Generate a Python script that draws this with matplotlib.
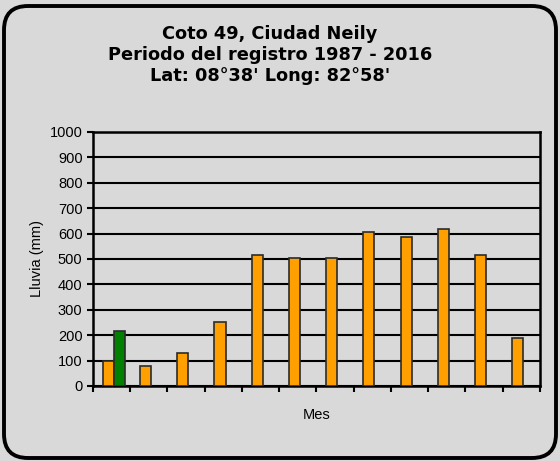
import numpy as np
import matplotlib.pyplot as plt
from matplotlib.patches import FancyBboxPatch

# data
meses = np.arange(12)
lluvia = [100, 80, 130, 250, 515, 505, 505, 606, 586, 619, 515, 187]
verde_pos = [0]
verde_val = [217]

titulo = "Coto 49, Ciudad Neily\nPeriodo del registro 1987 - 2016\nLat: 08°38' Long: 82°58'"
yticks = np.arange(0, 1001, 100)

bg = '#d9d9d9'
plt.rcParams['font.family'] = ['Liberation Sans', 'DejaVu Sans']

fig = plt.figure(figsize=(5.6, 4.61), dpi=100)
fig.patch.set_facecolor(bg)

# rounded frame around the whole chart
frame = FancyBboxPatch((0.04, 0.03), 5.52, 4.52,
                       boxstyle="round,pad=0,rounding_size=0.24",
                       transform=fig.dpi_scale_trans, fill=False,
                       edgecolor='black', linewidth=2.8)
fig.patches.append(frame)

fig.text(0.482, 0.881, titulo, ha='center', va='center', fontsize=12.8,
         fontweight='bold', family='DejaVu Sans', linespacing=1.2)

ax = fig.add_axes([0.166, 0.1627, 0.798, 0.551])
ax.set_facecolor(bg)

w = 0.3
shift = 0.06
ax.bar(meses - w / 2 + shift, lluvia, width=w, color='#ffa000',
       edgecolor='#2b2b2b', linewidth=1.2, zorder=3)
ax.bar(np.array(verde_pos) + w / 2 + shift, verde_val, width=w, color='#008000',
       edgecolor='#2b2b2b', linewidth=1.2, zorder=3)

ax.set_ylim(0, 1000)
ax.set_xlim(-0.5, 11.5)
ax.set_yticks(yticks)
ax.set_yticklabels([str(v) for v in yticks], fontsize=10.5)
ax.set_xticks(np.arange(-0.5, 12, 1))
ax.set_xticklabels([])
ax.tick_params(axis='both', direction='out', length=4, width=1.5, color='black')
ax.grid(axis='y', color='black', linewidth=1.5, zorder=1)
for s in ax.spines.values():
    s.set_linewidth(1.8)
    s.set_color('black')

ax.set_ylabel('Lluvia (mm)', fontsize=10.5, labelpad=4)
ax.set_xlabel('Mes', fontsize=10.5, labelpad=8)

fig.savefig('out.png', dpi=100, facecolor=bg)
